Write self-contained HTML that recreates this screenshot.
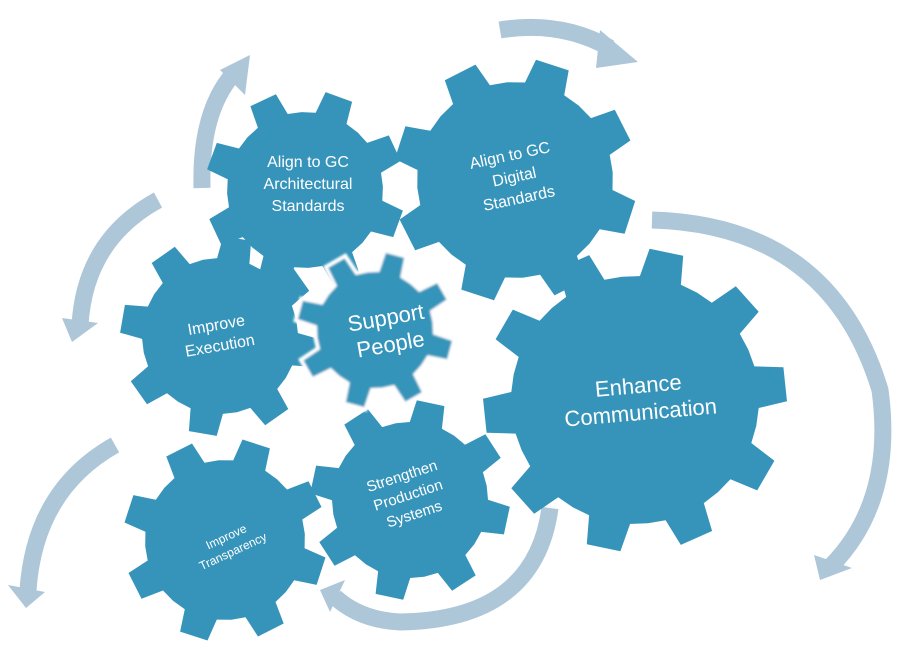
<!DOCTYPE html>
<html><head><meta charset="utf-8"><style>
html,body{margin:0;padding:0;background:#fff;width:908px;height:652px;overflow:hidden}
svg{display:block}
text{font-family:"Liberation Sans",sans-serif;fill:#fff;text-anchor:middle}
</style></head><body>
<svg id="s" width="908" height="652" viewBox="0 0 908 652" xmlns="http://www.w3.org/2000/svg">
<defs><filter id="b"><feGaussianBlur stdDeviation="1"/></filter></defs>
<g fill="none" stroke="#adc6d8" stroke-width="17">
<path d="M500 30 Q560 20 610 48"/>
<path d="M202 188 Q200 110 235 72"/>
<path d="M158 200 Q85 240 80 325"/>
<path d="M115 445 Q35 490 28 590"/>
<path d="M652 220 Q830 225 880 390 Q895 500 832 565"/>
<path d="M550 508 Q535 620 400 622 Q360 620 335 597"/>
</g>
<g fill="#adc6d8">
<polygon points="600,30 638,62 596,68"/>
<polygon points="220,70 250,55 245,95"/>
<polygon points="62,318 98,323 72,342"/>
<polygon points="8,585 45,592 26,608"/>
<polygon points="814,555 852,568 820,580"/>
<polygon points="345,580 330,612 320,590"/>
</g>
<g id="gears" fill="#3694ba"></g>
<text x="308" y="167" font-size="16">Align to GC</text>
<text x="308" y="189" font-size="16">Architectural</text>
<text x="308" y="211" font-size="16">Standards</text>
<g transform="rotate(-12 515 180)"><text x="515" y="160" font-size="16">Align to GC</text>
<text x="515" y="182" font-size="16">Digital</text>
<text x="515" y="204" font-size="16">Standards</text></g>
<g transform="rotate(-10 218 335)"><text x="218" y="330" font-size="16">Improve</text>
<text x="218" y="351" font-size="16">Execution</text></g>
<g transform="rotate(-10 388 330)"><text x="388" y="325" font-size="22">Support</text>
<text x="388" y="352" font-size="22">People</text></g>
<g transform="rotate(-5 640 405)"><text x="640" y="393" font-size="22">Enhance</text>
<text x="640" y="420" font-size="22">Communication</text></g>
<g transform="rotate(-18 408 495)"><text x="408" y="480" font-size="15">Strengthen</text>
<text x="408" y="500" font-size="15">Production</text>
<text x="408" y="520" font-size="15">Systems</text></g>
<g transform="rotate(-25 230 545)"><text x="230" y="540" font-size="12">Improve</text>
<text x="230" y="556" font-size="12">Transparency</text></g>
</svg>
<script>
var g=document.getElementById('gears');
function gear(cx,cy,r,R,n,rot,sup){
 var d='',step=2*Math.PI/n;
 for(var i=0;i<n;i++){
  var a=rot*Math.PI/180+i*step;
  var pts=[[a-step*0.5,r],[a-step*0.27,r],[a-step*0.18,R],[a+step*0.18,R],[a+step*0.27,r]];
  pts.forEach(function(p,j){var x=cx+p[1]*Math.cos(p[0]),y=cy+p[1]*Math.sin(p[0]);d+=(i==0&&j==0?'M':'L')+x.toFixed(1)+' '+y.toFixed(1);});
 }
 d+='Z';
 var p=document.createElementNS('http://www.w3.org/2000/svg','path');
 p.setAttribute('d',d);
 if(sup){p.setAttribute('stroke','#fff');p.setAttribute('stroke-width','4');p.setAttribute('filter','url(#b)');}
 g.appendChild(p);
}
gear(305,190,78,100,8,-70,0);
gear(515,180,98,122,8,-72,0);
gear(220,336,78,100,8,-80,0);
gear(635,400,124,152,10,-78,0);
gear(410,500,78,100,8,-78,0);
gear(225,540,80,102,8,-72,0);
gear(375,330,60,80,8,-75,1);
</script>
</body></html>
